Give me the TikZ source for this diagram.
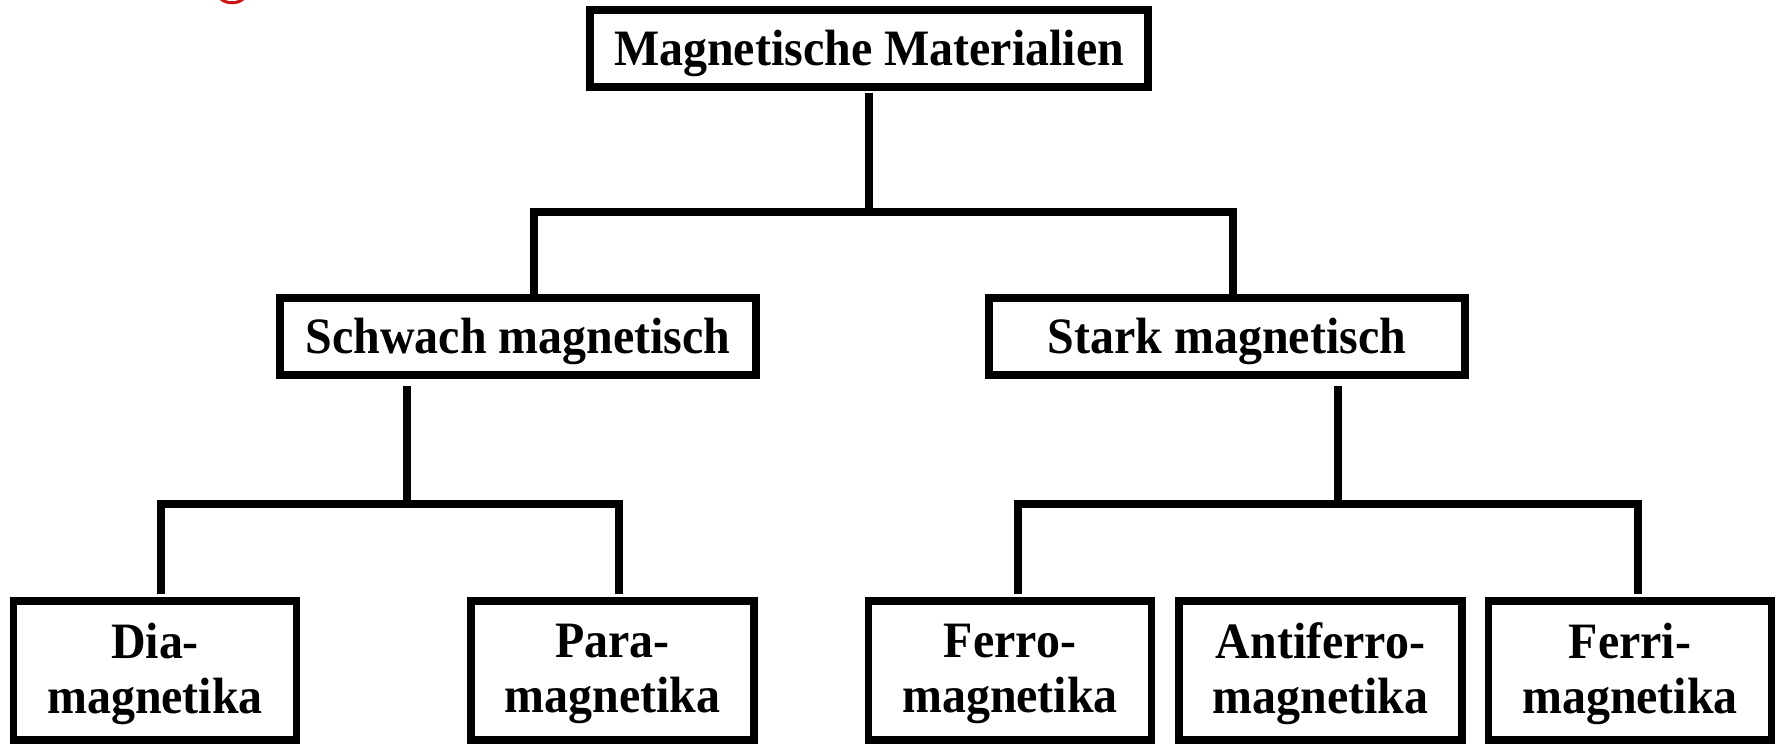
\documentclass[tikz,border=0pt]{standalone}
\usepackage{fontspec}
\setmainfont[FakeStretch=0.94]{Liberation Serif}
\definecolor{cutred}{RGB}{204,20,20}
\begin{document}
\begin{tikzpicture}[x=0.5pt,y=-0.5pt,
  box/.style={draw, line width=3.6pt, rectangle, inner sep=0pt, align=center,
    font=\fontsize{25.5}{27.5}\selectfont\bfseries},
  midbox/.style={box, minimum width=238pt, minimum height=38.5pt, text depth=0.5pt},
  leafbox/.style={box, minimum width=141.5pt, minimum height=69.5pt, text depth=2pt},
  conn/.style={line width=3.6pt, line join=miter}]
\useasboundingbox (0,0) rectangle (1777,744);
% clipped remnant of red text at the top edge
\draw[cutred, line width=1.5pt] (221,-1) .. controls (226,4) and (238,4) .. (243,-1);

\node[box, minimum width=279pt, minimum height=38.5pt, text depth=0.5pt] (top) at (869,48.5) {Magnetische Materialien};
\node[midbox] (schwach) at (518,336.5) {Schwach magnetisch};
\node[midbox] (stark) at (1227,336.5) {Stark magnetisch};

\node[leafbox] (dia) at (155,670.5) {Dia-\\magnetika};
\node[leafbox] (para) at (612.5,670.5) {Para-\\magnetika};
\node[leafbox] (ferro) at (1010,670.5) {Ferro-\\magnetika};
\node[leafbox] (antiferro) at (1320.5,670.5) {Antiferro-\\magnetika};
\node[leafbox] (ferri) at (1630,670.5) {Ferri-\\magnetika};

% level 1
\coordinate (tj) at (869,212);
\coordinate (lj) at (534,212);
\coordinate (rj) at (1233,212);
\draw[conn] ([yshift=-1pt]top.south) -- (tj);
\draw[conn] ([yshift=-3pt]schwach.north -| lj) -- (lj) -- (rj) -- ([yshift=-3pt]stark.north -| rj);

% level 2 left
\coordinate (sj) at (407,504);
\coordinate (dl) at (161,504);
\coordinate (dr) at (619,504);
\draw[conn] ([yshift=-3.5pt]schwach.south -| sj) -- (sj);
\draw[conn] ([yshift=1.5pt]dia.north -| dl) -- (dl) -- (dr) -- ([yshift=1.5pt]para.north -| dr);

% level 2 right
\coordinate (kj) at (1338,504);
\coordinate (fl) at (1018,504);
\coordinate (fr) at (1638,504);
\draw[conn] ([yshift=-3.5pt]stark.south -| kj) -- (kj);
\draw[conn] ([yshift=1.5pt]ferro.north -| fl) -- (fl) -- (fr) -- ([yshift=1.5pt]ferri.north -| fr);
\end{tikzpicture}
\end{document}
